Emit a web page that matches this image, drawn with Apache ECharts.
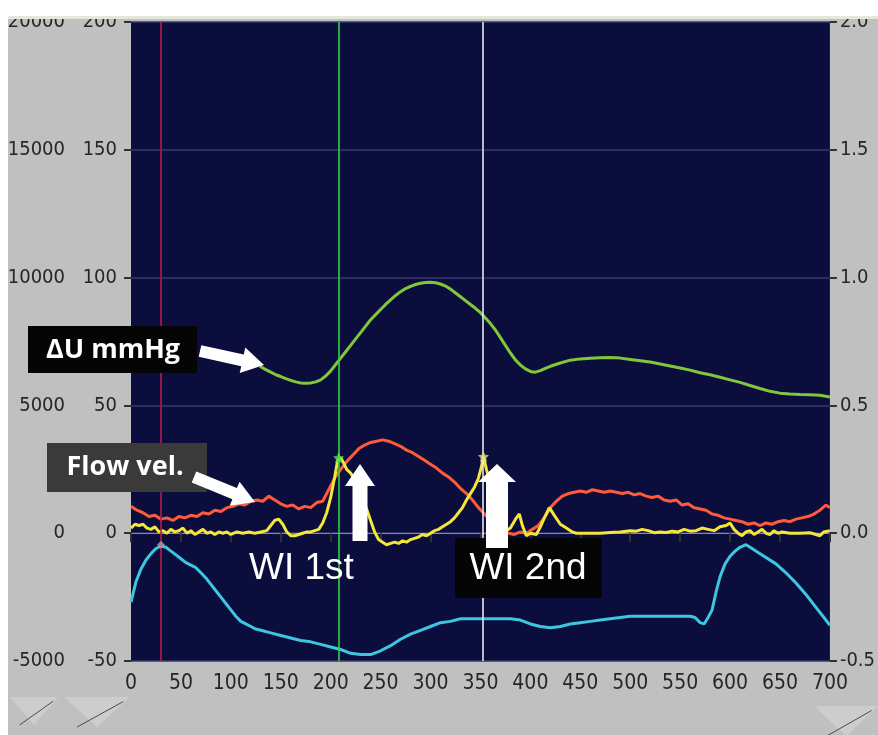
<!DOCTYPE html>
<html>
<head>
<meta charset="utf-8">
<script src="https://cdn.jsdelivr.net/npm/echarts@6/dist/echarts.min.js"></script>
<style>
  html, body { margin: 0; padding: 0; background: #fff; }
  #chart { width: 878px; height: 735px; }
</style>
</head>
<body>
<div id="chart"></div>
<script>
// ΔU mmHg (green)
const duX = [129, 135, 140, 145, 150, 155, 160, 165, 170, 175, 180, 185, 190, 195, 200, 205, 210, 215, 220, 225, 230, 235, 240, 245, 250, 255, 260, 265, 270, 275, 280, 285, 290, 295, 300, 305, 310, 315, 320, 325, 330, 335, 340, 345, 350, 355, 360, 365, 370, 375, 380, 385, 390, 395, 400, 405, 410, 415, 420, 430, 440, 450, 460, 470, 480, 490, 500, 510, 520, 530, 540, 550, 560, 570, 580, 590, 600, 610, 620, 630, 640, 650, 660, 670, 680, 690, 700]
const duY = [65.3, 64, 63, 62, 61.3, 60.5, 59.8, 59.2, 58.8, 58.7, 58.8, 59.2, 60, 61.5, 63.5, 66, 68.5, 71, 73.5, 76, 78.5, 81, 83.5, 85.5, 87.5, 89.5, 91.3, 93, 94.5, 95.7, 96.6, 97.3, 97.8, 98.1, 98.2, 98, 97.5, 96.7, 95.5, 94, 92.5, 91, 89.5, 88, 86.3, 84.2, 82, 79.5, 76.5, 73.5, 70.5, 67.8, 65.8, 64.3, 63.3, 63, 63.6, 64.5, 65.3, 66.6, 67.7, 68.2, 68.4, 68.6, 68.7, 68.5, 68, 67.5, 67, 66.2, 65.4, 64.6, 63.8, 62.8, 62, 61, 60, 59, 57.8, 56.6, 55.5, 54.8, 54.5, 54.3, 54.2, 54, 53.3]

// Flow velocity (red)
const velX = [0, 6, 12, 18, 24, 30, 36, 42, 48, 54, 60, 66, 72, 78, 84, 90, 96, 102, 108, 114, 120, 126, 132, 138, 144, 150, 156, 162, 168, 174, 180, 186, 192, 198, 204, 210, 216, 222, 228, 234, 240, 246, 252, 258, 264, 270, 276, 282, 288, 294, 300, 306, 312, 318, 324, 330, 336, 342, 348, 354, 360, 366, 372, 378, 384, 390, 396, 402, 408, 414, 420, 426, 432, 438, 444, 450, 456, 462, 468, 474, 480, 486, 492, 498, 504, 510, 516, 522, 528, 534, 540, 546, 552, 558, 564, 570, 576, 582, 588, 594, 600, 606, 612, 618, 624, 630, 636, 642, 648, 654, 660, 666, 672, 678, 684, 690, 696, 700]
const velY = [10.5, 9, 8, 6.5, 7, 5.5, 6, 5, 6.5, 6, 7, 6.5, 8, 7.5, 9, 8.5, 10, 10.5, 11.5, 11, 12.5, 13, 12.5, 14.5, 13, 11.5, 10.5, 11, 9.5, 10.5, 10, 12, 12.5, 17, 21.5, 25, 28, 30.5, 33, 34.5, 35.5, 36, 36.5, 36, 35, 34, 32.5, 31.5, 30, 28.5, 27, 25.5, 23.5, 22, 20, 17.5, 15.5, 13, 10, 7.5, 5, 3, 1, 0, -0.5, 0.5, 0, 1.5, 3, 6, 10, 12.5, 14.5, 15.5, 16, 16.5, 16, 17, 16.5, 16, 16.5, 16, 15.5, 16, 15, 15.5, 14.5, 14, 14.5, 13, 12.5, 13, 11, 11.5, 10, 9.5, 9, 7.5, 7, 6, 5.5, 5, 4.5, 3.5, 4, 3, 4, 3.5, 4.5, 5, 4.5, 5.5, 6, 6.5, 7.5, 9, 11, 10]

// Wave intensity (yellow)
const wiX = [0, 4, 8, 12, 16, 20, 24, 28, 32, 36, 40, 44, 48, 52, 56, 60, 64, 68, 72, 76, 80, 84, 88, 92, 96, 100, 106, 112, 118, 124, 130, 136, 140, 144, 148, 152, 156, 160, 164, 168, 172, 176, 180, 184, 188, 192, 196, 200, 204, 207, 210, 213, 216, 220, 224, 228, 232, 236, 240, 244, 248, 252, 256, 260, 264, 268, 272, 276, 280, 284, 288, 292, 296, 300, 304, 308, 312, 316, 320, 324, 328, 332, 336, 340, 344, 348, 351, 353, 356, 360, 364, 368, 372, 376, 380, 386, 389, 392, 396, 400, 406, 410, 414, 419, 424, 430, 436, 442, 446, 452, 460, 470, 480, 490, 500, 506, 512, 518, 524, 530, 536, 542, 548, 554, 560, 566, 572, 578, 584, 590, 596, 600, 604, 608, 612, 616, 620, 624, 628, 632, 636, 640, 644, 648, 652, 660, 670, 680, 686, 690, 694, 700]
const wiY = [2, 3.5, 3, 3.5, 2, 1.5, 2.5, 0.5, 1, 0, 1.5, 0.5, 1, 2, 0, 1, -0.5, 0.5, 1.5, 0, 0.5, -0.5, 0.5, 0, 0.5, -0.5, 0.5, 0, 0.5, 0, 0.5, 1, 3, 5, 5.5, 3.5, 0.5, -1, -1, -0.5, 0, 0.5, 0.5, 1, 1.5, 4, 8, 14, 22, 28.5, 29.5, 27.5, 25, 23.5, 21, 17, 13, 9.5, 5, 0.5, -2.5, -3.5, -4.5, -4, -3.5, -4, -3, -3.5, -2.5, -2, -1.5, -0.5, -1, 0, 1, 1.5, 2.5, 3.5, 4.5, 6, 8, 10, 13, 15.5, 18, 21.5, 26, 30, 25, 19, 13, 8, 4, 1, 2, 6, 7.5, 3, -1, 0, -0.5, 2.5, 6, 10, 7, 3.5, 2, 0.5, 0, 0, 0, 0, 0.3, 0.5, 1, 0.8, 1.5, 1, 0.2, 0.5, 0.3, 0.8, 0.5, 1.5, 0.8, 1, 2, 1.5, 1, 2.5, 3, 4, 1.5, 0, -1, 0.5, 1, -0.5, 0.5, 1.5, 0, -0.5, 1, 0, 0.5, 0, 0, 0.2, -0.5, -1, 0.5, 1]

// Cyan trace
const cyX = [0, 5, 10, 15, 20, 25, 30, 35, 40, 45, 50, 55, 60, 65, 70, 75, 80, 85, 90, 95, 100, 105, 110, 115, 120, 125, 130, 140, 150, 160, 170, 180, 190, 200, 210, 220, 230, 240, 250, 260, 270, 280, 290, 300, 310, 320, 330, 340, 360, 380, 390, 400, 410, 420, 430, 440, 450, 460, 470, 480, 490, 500, 520, 540, 560, 565, 570, 574, 578, 582, 586, 590, 595, 600, 605, 610, 616, 622, 632, 646, 656, 666, 676, 686, 694, 700]
const cyY = [-27, -19, -14, -10.5, -8, -6, -5, -5.5, -7, -8.5, -10, -11.5, -12.5, -13.5, -15.5, -17.5, -20, -22.5, -25, -27.5, -30, -32.5, -34.5, -35.5, -36.5, -37.5, -38, -39, -40, -41, -42, -42.5, -43.5, -44.5, -45.5, -47, -47.5, -47.5, -46, -44, -41.5, -39.5, -38, -36.5, -35, -34.5, -33.5, -33.5, -33.5, -33.5, -34, -35.5, -36.5, -37, -36.5, -35.5, -35, -34.5, -34, -33.5, -33, -32.5, -32.5, -32.5, -32.5, -33, -35, -35.5, -33, -30, -23, -17, -12, -9, -7, -5.5, -4.5, -6, -8.5, -12, -15.5, -19.5, -24, -29, -33, -36]

// cursor lines and markers
const cursorX = [30, 208, 352]
const cursorColors = ['#b51a4c', '#2fd04a', '#e6e6f4']
const starPoints = [[208, 29.5], [353, 30]]
const dotPoint = [[30, -4.5]]

// axis ticks
const xMin = 0, xMax = 700, xStep = 50
const leftMin = -50, leftMax = 200, leftStep = 50
const outerMin = -5000, outerMax = 20000, outerStep = 5000
const rightMin = -0.5, rightMax = 2.0, rightStep = 0.5

const tickFont = "'DejaVu Sans', sans-serif"
const zip = (xs, ys) => xs.map((x, i) => [x, ys[i]])

const chart = echarts.init(document.getElementById('chart'), null, { renderer: 'canvas' })

// arrow polygon from tail to tip
function arrow(x1, y1, x2, y2, sw, hw, hl) {
  const dx = x2 - x1, dy = y2 - y1
  const len = Math.sqrt(dx * dx + dy * dy)
  const ux = dx / len, uy = dy / len
  const nx = -uy, ny = ux
  const bx = x2 - ux * hl, by = y2 - uy * hl
  return {
    type: 'polygon', z: 20,
    shape: { points: [
      [x1 + nx * sw, y1 + ny * sw], [bx + nx * sw, by + ny * sw], [bx + nx * hw, by + ny * hw],
      [x2, y2],
      [bx - nx * hw, by - ny * hw], [bx - nx * sw, by - ny * sw], [x1 - nx * sw, y1 - ny * sw]
    ] },
    style: { fill: '#ffffff' }
  }
}

function scroller(x, y, w, h) {
  return [
    { type: 'polygon', z: 1, shape: { points: [[x, y], [x + w, y], [x + w / 2, y + h]] }, style: { fill: '#cdcdcd' } },
    { type: 'line', z: 2, shape: { x1: x + w * 0.2, y1: y + h, x2: x + w * 0.9, y2: y + h * 0.15 }, style: { stroke: '#4a4a4a', lineWidth: 1 } }
  ]
}

// font-stretch is slipped in through fontWeight so the canvas picks the condensed face
const labelStyle = { color: '#262626', fontSize: 20, fontWeight: 'normal condensed', fontFamily: tickFont }

chart.setOption({
  backgroundColor: '#c0c0c0',
  animation: false,
  grid: {
    left: 131, right: 47, top: 22, bottom: 74,
    show: true, backgroundColor: '#0b0d3c', borderColor: '#0b0d3c', borderWidth: 0
  },
  xAxis: {
    type: 'value', min: xMin, max: xMax, interval: xStep,
    axisLine: { show: true, lineStyle: { color: '#8a8a9a', width: 1 } },
    axisTick: { show: true, inside: false, length: 9, lineStyle: { color: '#303030', width: 2 } },
    axisLabel: Object.assign({}, labelStyle, { margin: 12, fontSize: 21 }),
    splitLine: { show: false }
  },
  yAxis: [
    {
      type: 'value', min: leftMin, max: leftMax, interval: leftStep, position: 'left',
      axisLine: { show: false },
      axisTick: { show: true, length: 7, lineStyle: { color: '#303030', width: 2 } },
      axisLabel: Object.assign({ margin: 14 }, labelStyle),
      splitLine: { show: true, lineStyle: { color: '#363a6c', width: 1.5 } }
    },
    {
      type: 'value', min: outerMin, max: outerMax, interval: outerStep, position: 'left', offset: 62,
      axisLine: { show: false }, axisTick: { show: false },
      axisLabel: Object.assign({ margin: 4, formatter: v => String(v) }, labelStyle),
      splitLine: { show: false }
    },
    {
      type: 'value', min: rightMin, max: rightMax, interval: rightStep, position: 'right',
      axisLine: { show: false },
      axisTick: { show: true, length: 7, lineStyle: { color: '#303030', width: 2 } },
      axisLabel: Object.assign({ margin: 10, formatter: v => v.toFixed(1) }, labelStyle),
      splitLine: { show: false }
    }
  ],
  series: [
    {
      type: 'line', name: 'cursor', data: [], silent: true,
      markLine: {
        silent: true, symbol: 'none', label: { show: false },
        data: cursorX.map((x, i) => ({ xAxis: x, lineStyle: { color: cursorColors[i], width: 1.6, type: 'solid' } }))
      }
    },
    { type: 'line', name: 'cyan', data: zip(cyX, cyY), showSymbol: false, lineStyle: { color: '#3ec6e0', width: 3 } },
    { type: 'line', name: 'flow', data: zip(velX, velY), showSymbol: false, lineStyle: { color: '#ff5a3a', width: 3 } },
    { type: 'line', name: 'wi', data: zip(wiX, wiY), showSymbol: false, lineStyle: { color: '#f4e63a', width: 3 } },
    { type: 'line', name: 'du', data: zip(duX, duY), showSymbol: false, lineStyle: { color: '#80c83a', width: 3 } },
    {
      type: 'scatter', data: starPoints, symbolSize: 11, z: 5,
      symbol: 'path://M0,-10 L2.9,-4 9.5,-3.1 4.7,1.5 5.9,8.1 0,5 -5.9,8.1 -4.7,1.5 -9.5,-3.1 -2.9,-4Z',
      itemStyle: { color: (p) => (p.dataIndex === 0 ? '#5ee04a' : '#e8e07a') }
    },
    { type: 'scatter', data: dotPoint, symbolSize: 8, z: 5, symbol: 'diamond', itemStyle: { color: '#b09aa8' } }
  ],
  graphic: [
    { type: 'rect', z: 1, shape: { x: 0, y: 0, width: 878, height: 16 }, style: { fill: '#ffffff' } },
    { type: 'rect', z: 1, shape: { x: 0, y: 0, width: 8, height: 735 }, style: { fill: '#ffffff' } },
    { type: 'rect', z: 1, shape: { x: 8, y: 16, width: 870, height: 3 }, style: { fill: '#e4e8dc' } },
    ...scroller(10, 697, 48, 28),
    ...scroller(64, 697, 66, 30),
    ...scroller(814, 706, 64, 30),

    // ΔU mmHg label
    { type: 'rect', z: 15, shape: { x: 28, y: 326, width: 169, height: 47 }, style: { fill: '#050505' } },
    { type: 'text', z: 16, x: 113, y: 350, style: { text: 'ΔU mmHg', fill: '#ffffff', font: "bold 27px 'Open Sans', sans-serif", align: 'center', verticalAlign: 'middle' } },
    arrow(200, 351, 264, 365, 6, 13, 22),

    // Flow vel. label
    { type: 'rect', z: 15, shape: { x: 47, y: 443, width: 160, height: 49 }, style: { fill: '#3a3a3a' } },
    { type: 'text', z: 16, x: 125, y: 467, style: { text: 'Flow vel.', fill: '#ffffff', font: "bold 27px 'Open Sans', sans-serif", align: 'center', verticalAlign: 'middle' } },
    arrow(194, 477, 255, 502, 6, 13, 22),

    // WI 1st
    { type: 'text', z: 16, x: 249, y: 569, style: { text: 'WI 1st', fill: '#ffffff', font: "37px 'Liberation Sans', Arial, sans-serif", align: 'left', verticalAlign: 'middle' } },
    arrow(360, 541, 360, 464, 7.5, 15, 22),

    // WI 2nd
    { type: 'rect', z: 15, shape: { x: 455, y: 538, width: 147, height: 60 }, style: { fill: '#050505' } },
    { type: 'text', z: 16, x: 528, y: 569, style: { text: 'WI 2nd', fill: '#ffffff', font: "37px 'Liberation Sans', Arial, sans-serif", align: 'center', verticalAlign: 'middle' } },
    arrow(497, 548, 497, 464, 11, 19, 18)
  ]
})

window.addEventListener('resize', () => {
  chart.resize()
})
</script>
</body>
</html>
